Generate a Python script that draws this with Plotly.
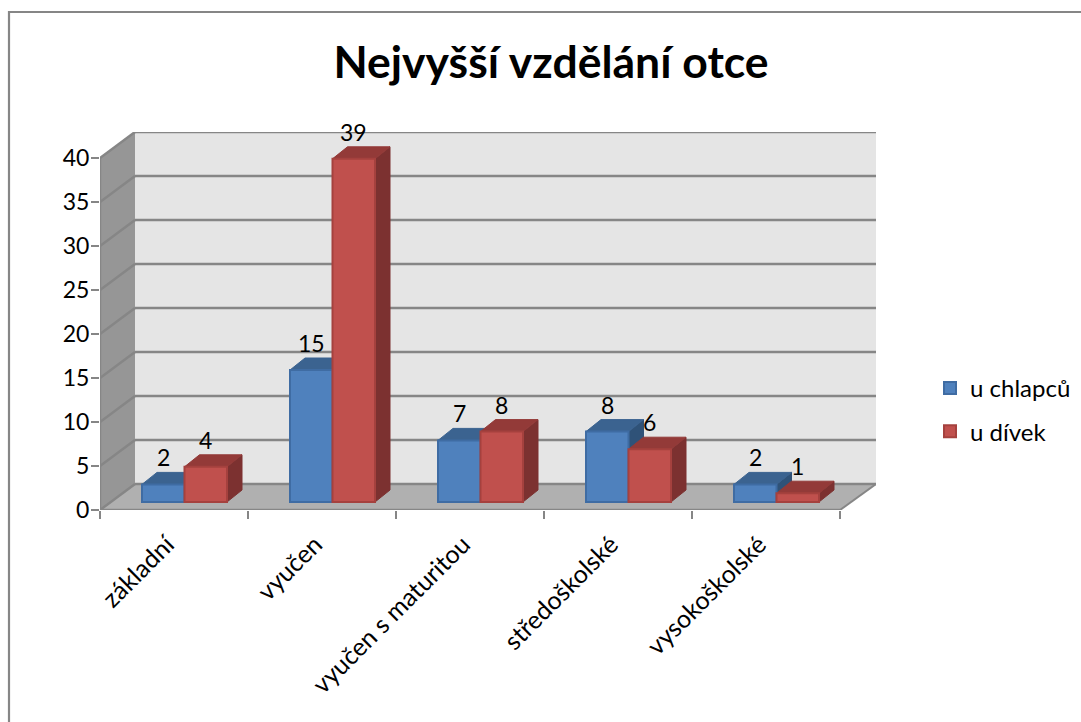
import plotly.graph_objects as go

categories = ["základní", "vyučen", "vyučen s maturitou", "středoškolské", "vysokoškolské"]
boys = [2, 15, 7, 8, 2]
girls = [4, 39, 8, 6, 1]
y_ticks = [0, 5, 10, 15, 20, 25, 30, 35, 40]

W, H = 1081, 722
L, R, T, B = 100, 876, 132, 510
PX_X = 148.0
PX_Y = 8.8
FONT = "Lato"
GRID = "#868686"

xmax = (R - L) / PX_X
ymax = (B - T) / PX_Y
wall_dx = 35 / PX_X
wall_dy = 26 / PX_Y
bar_w = 42.5 / PX_X
group_c = 84.5 / PX_X
base = 8 / PX_Y
bar_dx = 15 / PX_X
bar_dy = 12 / PX_Y
n = len(categories)

def px(x):
    return (x - L) / (R - L)

def py(y):
    return (B - y) / (B - T)

shapes = []

def poly(xs, ys, fill):
    path = "M" + "L".join(f"{a},{b}" for a, b in zip(xs, ys)) + "Z"
    shapes.append(dict(type="path", path=path, xref="x", yref="y", fillcolor=fill,
                       line=dict(color="rgba(0,0,0,0)", width=0), layer="below"))

def seg(x0, y0, x1, y1, width=2.5):
    shapes.append(dict(type="line", x0=x0, y0=y0, x1=x1, y1=y1, xref="x", yref="y",
                       line=dict(color=GRID, width=width), layer="below"))

# walls and floor
poly([wall_dx, xmax, xmax, wall_dx], [wall_dy, wall_dy, ymax, ymax], "#e5e5e5")
poly([0, wall_dx, wall_dx, 0], [0, wall_dy, ymax, ymax - wall_dy], "#969696")
poly([0, n, xmax, wall_dx], [0, 0, wall_dy, wall_dy], "#b0b0b0")
for v in y_ticks:
    seg(0, v, wall_dx, v + wall_dy)
    seg(wall_dx, v + wall_dy, xmax, v + wall_dy)
seg(0, 0, n, 0, 2.5)
seg(n, 0, xmax, wall_dy, 2)
seg(0, 0, 0, y_ticks[-1], 2.5)

# outer frame
shapes.append(dict(type="path", xref="paper", yref="paper", layer="below",
                   path=f"M{px(9)},{py(H + 10)}L{px(9)},{py(12)}L{px(W + 10)},{py(12)}",
                   line=dict(color=GRID, width=2.2)))

fig = go.Figure()

def faces(values, offset, top_c, side_c):
    for i, v in enumerate(values):
        x0 = i + group_c + offset
        x1 = x0 + bar_w
        y1 = v + base
        fig.add_trace(go.Scatter(
            x=[x1, x1 + bar_dx, x1 + bar_dx, x1, x1],
            y=[base, base + bar_dy, y1 + bar_dy, y1, base],
            fill="toself", fillcolor=side_c, mode="lines",
            line=dict(color=side_c, width=1), showlegend=False, hoverinfo="skip"))
        fig.add_trace(go.Scatter(
            x=[x0, x0 + bar_dx, x1 + bar_dx, x1, x0],
            y=[y1, y1 + bar_dy, y1 + bar_dy, y1, y1],
            fill="toself", fillcolor=top_c, mode="lines",
            line=dict(color=top_c, width=1), showlegend=False, hoverinfo="skip"))

faces(boys, -bar_w, "#3b6390", "#2f5278")
faces(girls, 0, "#933a38", "#7c3130")

xc = [i + group_c for i in range(n)]
fig.add_trace(go.Bar(
    name="u chlapců", x=[c - bar_w / 2 for c in xc], y=boys, base=base,
    width=bar_w, xaxis="x2", yaxis="y2", legendgroup="a",
    marker=dict(color="#4f81bd", line=dict(color="#3f6ca3", width=2))))
fig.add_trace(go.Bar(
    name="u dívek", x=[c + bar_w / 2 for c in xc], y=girls, base=base,
    width=bar_w, xaxis="x2", yaxis="y2", legendgroup="b",
    marker=dict(color="#c0504d", line=dict(color="#a5413e", width=2))))

annotations = []
for values, off in ((boys, -bar_w / 2), (girls, bar_w / 2)):
    for c, v in zip(xc, values):
        annotations.append(dict(x=c + off, y=v + base, xref="x2", yref="y2", text=str(v), showarrow=False,
                                yshift=27, font=dict(family=FONT, size=23, color="#000000")))

axis_common = dict(showgrid=False, zeroline=False, showline=False)
fig.update_layout(
    width=W, height=H, autosize=False,
    margin=dict(l=L, r=W - R, t=T, b=H - B, pad=0, autoexpand=False),
    paper_bgcolor="#ffffff", plot_bgcolor="rgba(0,0,0,0)",
    shapes=shapes, annotations=annotations, barmode="overlay",
    title=dict(text="<b>Nejvyšší vzdělání otce</b>", x=551 / W, xanchor="center", xref="container",
               y=1 - 62 / H, yanchor="middle", yref="container",
               font=dict(family=FONT, size=44.5, color="#000000")),
    font=dict(family=FONT, size=25, color="#000000"),
    xaxis=dict(range=[0, xmax], tickmode="array", tickvals=[i + 0.5 for i in range(n)],
               ticktext=categories, tickangle=-45, ticks="", ticklabelstandoff=14, ticklabelshift=-7,
               tickfont=dict(family=FONT, size=25, color="#000000"),
               minor=dict(tickmode="array", tickvals=list(range(n + 1)), ticks="outside",
                          ticklen=8, tickwidth=2, tickcolor=GRID),
               **axis_common),
    yaxis=dict(range=[0, ymax], tickmode="array", tickvals=y_ticks, ticks="outside", ticklen=8,
               tickwidth=2, tickcolor=GRID, ticklabelstandoff=-3,
               tickfont=dict(family=FONT, size=23, color="#000000"),
               **axis_common),
    xaxis2=dict(range=[0, xmax], overlaying="x", visible=False),
    yaxis2=dict(range=[0, ymax], overlaying="y", visible=False),
    legend=dict(x=(930 - L) / (R - L), y=py(366), xanchor="left", yanchor="top",
                font=dict(family=FONT, size=24, color="#000000"),
                tracegroupgap=9, bgcolor="rgba(0,0,0,0)"),
)
fig.write_html("out.html", config={"displayModeBar": False},
               post_script="document.body.style.margin='0';")
